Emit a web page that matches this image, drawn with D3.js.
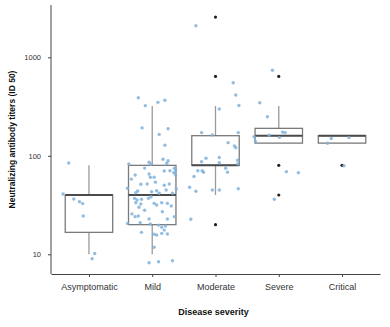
<!DOCTYPE html>
<html>
<head>
<meta charset="utf-8">
<script src="https://cdn.jsdelivr.net/npm/d3@7"></script>
<style>
  html, body { margin: 0; padding: 0; background: #fff; }
  svg { display: block; font-family: "Liberation Sans", Arial, sans-serif; }
</style>
</head>
<body>
<svg id="chart" width="390" height="327"></svg>
<script>
// Severity groups along the x axis
const categories = ["Asymptomatic", "Mild", "Moderate", "Severe", "Critical"];

// Box summaries per group (ID50 titers): whisker low, Q1, median, Q3, whisker high
const boxLow    = [10,   10,  40, 134.5, 134.5];
const boxQ1     = [16.7, 20,  80, 134.5, 134.5];
const boxMedian = [40,   40,  80, 160,   160];
const boxQ3     = [40,   80, 160, 190,   160];
const boxHigh   = [80,  320, 320, 320,   160];

// Outlying titers per group
const outliers = [[], [], [2560, 640, 20], [640, 80, 40], [80]];

// Individual titers per group, each as [titer, horizontal jitter in category units]
const asymptomaticPts = [[84.5,-0.32],[40.9,-0.41],[36.4,-0.24],[34.2,-0.15],[32.7,-0.10],
  [24.5,-0.09],[10.2,0.09],[9.0,0.05]];
const mildPts = [[389,-0.22],[323,-0.11],[349,0.09],[366,0.20],[192,-0.16],[165,0.11],
  [188,0.25],[128,0.20],[82.5,-0.37],[85.9,-0.05],[82,-0.02],[92.1,0.17],[83.9,0.23],
  [89.2,0.25],[74.7,0.35],[71.7,0.37],[70.6,0.28],[70.1,0.19],[63.8,-0.27],[65.3,-0.05],
  [60.5,-0.03],[60.5,0.03],[67.3,0.34],[63.8,0.37],[51.4,-0.18],[51.7,-0.08],[50.2,0.19],
  [51.7,0.27],[46.8,-0.39],[43.9,-0.23],[42.2,-0.26],[43.2,-0.01],[44.2,0.07],[41.6,0.11],
  [41.6,0.32],[37.0,-0.28],[35.6,-0.24],[36.2,-0.17],[37.0,-0.06],[38.4,-0.02],[33.4,-0.26],
  [32.4,-0.18],[32.9,0.03],[33.4,0.15],[32.9,0.24],[30.0,-0.21],[31.7,0.07],[30.9,0.30],
  [25.7,-0.32],[24.1,-0.27],[24.5,-0.22],[22.8,-0.05],[22.8,0.24],[24.1,0.35],[20.6,-0.39],
  [20.9,-0.19],[20.3,-0.03],[19.8,0.10],[18.8,0.15],[19.4,0.21],[17.6,0.19],[16.7,-0.17],
  [16.0,0.03],[15.7,0.07],[16.3,0.15],[16.1,0.24],[11.8,0.03],[8.2,-0.05],[8.4,0.10],
  [8.6,0.32],[46,0.38],[58,-0.33],[28,-0.12],[27,0.16],[45,0.22],[75,-0.12],[54,0.05]];
const moderatePts = [[2093,-0.31],[552,0.28],[414,0.32],[324,0.37],[299,0.06],[172,-0.22],
  [163,-0.05],[172,0.36],[136,0.20],[126,0.30],[121,0.32],[94.3,-0.15],[96.1,0.06],
  [87.1,-0.22],[85.1,0.06],[90.0,0.35],[82.5,0.35],[74.7,0.16],[68.2,0.19],[70.6,-0.28],
  [70.6,-0.21],[68.0,-0.19],[61.6,-0.34],[47.9,-0.41],[43.6,-0.31],[45.0,-0.05],[45.0,0.06],
  [46.3,0.36],[22.7,-0.39]];
const severePts = [[738,-0.10],[346,-0.30],[249,-0.18],[174,0.06],[172,0.10],[162,-0.15],
  [154,0.01],[156,-0.39],[140,-0.37],[69.0,0.12],[67.3,0.31],[36.2,-0.07]];
const criticalPts = [[150,-0.17],[153,0.11],[134,-0.23],[79.3,0.03]];
const groupPoints = [asymptomaticPts, mildPts, moderatePts, severePts, criticalPts];

const yTicks = [10, 100, 1000];

const svg = d3.select("#chart");
const plotLeft = 51, plotRight = 380, plotTop = 5, plotBottom = 274;

const x = d3.scalePoint().domain(categories).range([plotLeft, plotRight]).padding(0.6);
const step = x.step();
const y = d3.scaleLog().domain([Math.pow(10, 0.8), Math.pow(10, 3.531)]).range([plotBottom, plotTop]);

const boxW = step * 0.75;

// Box summaries joined with their category
const boxes = categories.map((c, i) => ({
  c, low: boxLow[i], q1: boxQ1[i], med: boxMedian[i], q3: boxQ3[i], high: boxHigh[i]
}));

const g = svg.append("g");

// Whiskers
g.selectAll("line.whiskerHi").data(boxes).join("line")
  .attr("class", "whiskerHi")
  .attr("x1", d => x(d.c)).attr("x2", d => x(d.c))
  .attr("y1", d => y(d.q3)).attr("y2", d => y(d.high))
  .attr("stroke", "#9a9a9a").attr("stroke-width", 1.3);
g.selectAll("line.whiskerLo").data(boxes).join("line")
  .attr("class", "whiskerLo")
  .attr("x1", d => x(d.c)).attr("x2", d => x(d.c))
  .attr("y1", d => y(d.q1)).attr("y2", d => y(d.low))
  .attr("stroke", "#9a9a9a").attr("stroke-width", 1.3);

// Box rectangles
g.selectAll("rect.box").data(boxes).join("rect")
  .attr("class", "box")
  .attr("x", d => x(d.c) - boxW / 2)
  .attr("width", boxW)
  .attr("y", d => y(d.q3))
  .attr("height", d => Math.max(0, y(d.q1) - y(d.q3)))
  .attr("fill", "white")
  .attr("stroke", "#7a7a7a").attr("stroke-width", 1.3);

// Median lines
g.selectAll("line.median").data(boxes).join("line")
  .attr("class", "median")
  .attr("x1", d => x(d.c) - boxW / 2).attr("x2", d => x(d.c) + boxW / 2)
  .attr("y1", d => y(d.med)).attr("y2", d => y(d.med))
  .attr("stroke", "#4a4a4a").attr("stroke-width", 2);

// Outliers
const outlierData = outliers.flatMap((arr, i) => arr.map(v => ({ c: categories[i], v })));
g.selectAll("circle.out").data(outlierData).join("circle")
  .attr("class", "out")
  .attr("cx", d => x(d.c)).attr("cy", d => y(d.v)).attr("r", 1.6)
  .attr("fill", "#222");

// Jittered individual titers
const pts = groupPoints.flatMap((arr, i) => arr.map(([v, j]) => ({ c: categories[i], v, j })));
g.selectAll("circle.pt").data(pts).join("circle")
  .attr("class", "pt")
  .attr("cx", d => x(d.c) + d.j * step)
  .attr("cy", d => y(d.v))
  .attr("r", 1.7)
  .attr("fill", "#7fb1dc")
  .attr("fill-opacity", 0.85);

// Axes
const yAxis = svg.append("g").attr("transform", `translate(${plotLeft},0)`)
  .call(d3.axisLeft(y).tickValues(yTicks).tickFormat(d3.format("d")).tickSize(3).tickPadding(7).tickSizeOuter(0));
yAxis.select(".domain").attr("d", `M0,${plotTop}V${plotBottom}`).attr("stroke", "#444");
yAxis.selectAll(".tick line").attr("stroke", "#444");
yAxis.selectAll(".tick text").attr("font-size", 7.5).attr("fill", "#333")
  .attr("font-family", "Liberation Sans, Arial, sans-serif");

const xAxis = svg.append("g").attr("transform", `translate(0,${plotBottom})`)
  .call(d3.axisBottom(x).tickSize(3).tickPadding(6.6).tickSizeOuter(0));
xAxis.select(".domain").attr("stroke", "#444");
xAxis.selectAll(".tick line").attr("stroke", "#444");
xAxis.selectAll(".tick text").attr("font-size", 9).attr("fill", "#333")
  .attr("font-family", "Liberation Sans, Arial, sans-serif");

// Axis titles
svg.append("text")
  .attr("x", (plotLeft + plotRight) / 2 - 2).attr("y", 315)
  .attr("text-anchor", "middle")
  .attr("font-size", 9).attr("font-weight", "bold").attr("fill", "#111")
  .text("Disease severity");

svg.append("text")
  .attr("transform", `translate(14.5,${(plotTop + plotBottom) / 2}) rotate(-90)`)
  .attr("text-anchor", "middle")
  .attr("font-size", 8.5).attr("font-weight", "bold").attr("fill", "#111")
  .text("Neutralizing antibody titers (ID 50)");
</script>
</body>
</html>
